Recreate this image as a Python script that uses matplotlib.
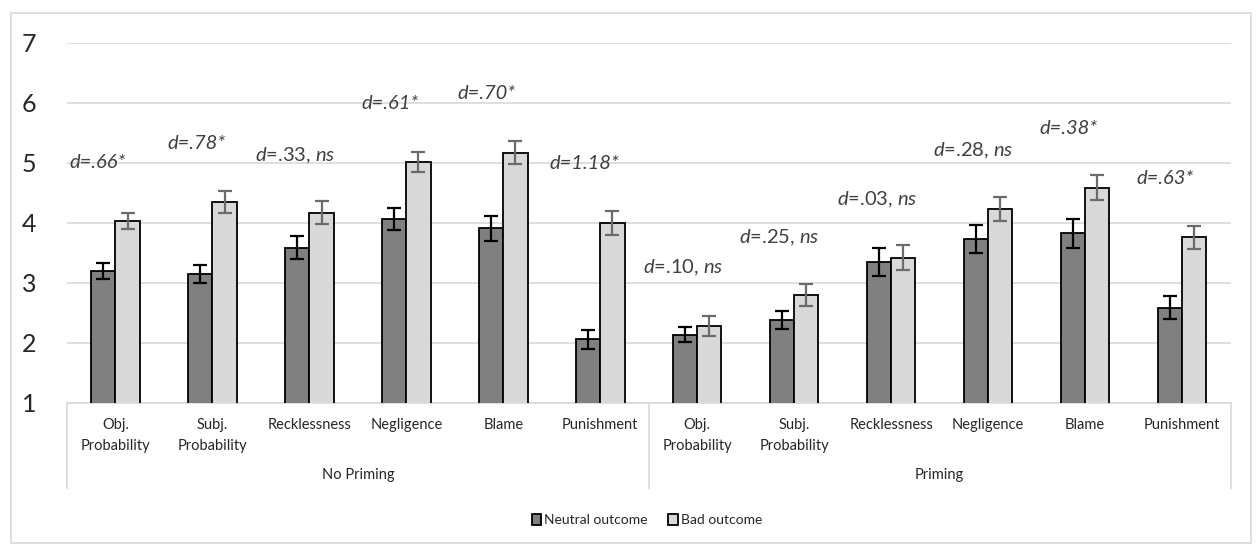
import numpy as np
import matplotlib
matplotlib.use("Agg")
from matplotlib import pyplot as plt
from matplotlib import transforms
from matplotlib.patches import Rectangle

plt.rcParams['font.family'] = ['Lato', 'DejaVu Sans']
plt.rcParams['mathtext.fontset'] = 'custom'
plt.rcParams['mathtext.rm'] = 'Lato'
plt.rcParams['mathtext.it'] = 'Lato:italic'

# data
groups = ['No Priming', 'Priming']
measures = ['Obj.\nProbability', 'Subj.\nProbability', 'Recklessness',
            'Negligence', 'Blame', 'Punishment']
neutral = [3.20, 3.15, 3.59, 4.07, 3.91, 2.06,
           2.14, 2.38, 3.35, 3.73, 3.83, 2.59]
neutral_err = [0.14, 0.15, 0.19, 0.18, 0.21, 0.16,
               0.13, 0.15, 0.23, 0.23, 0.24, 0.19]
bad = [4.03, 4.35, 4.17, 5.02, 5.17, 4.00,
       2.28, 2.80, 3.42, 4.24, 4.59, 3.76]
bad_err = [0.13, 0.18, 0.19, 0.17, 0.19, 0.20,
           0.17, 0.18, 0.21, 0.20, 0.21, 0.19]
effects = ['.66', '.78', '.33', '.61', '.70', '1.18',
           '.10', '.25', '.03', '.28', '.38', '.63']
signif = [True, True, False, True, True, True,
          False, False, False, False, True, True]

# where each effect-size label sits (category units / y units)
label_dx = [-0.47, -0.46, -0.56, -0.46, -0.47, -0.52,
            -0.56, -0.57, -0.56, -0.57, -0.47, -0.47]
label_y = [5.00, 5.32, 5.12, 5.99, 6.16, 4.99,
           3.26, 3.76, 4.39, 5.20, 5.57, 4.74]

fig = plt.figure(figsize=(12.57, 5.44), dpi=100)
ax = fig.add_axes([67/1257, 1-403/544, (1230.5-67)/1257, 360/544])

fig.patches.append(Rectangle((11/1257, 1/544), 1240/1257, 530/544,
                             transform=fig.transFigure, fill=False,
                             edgecolor='#d9d9d9', linewidth=1.2))

x = np.arange(len(neutral))
w = 0.25
ax.bar(x - w/2, neutral, w, color='#808080', edgecolor='black',
       linewidth=1.3, label='Neutral outcome', zorder=3)
ax.bar(x + w/2, bad, w, color='#d9d9d9', edgecolor='black',
       linewidth=1.3, label='Bad outcome', zorder=3)
ax.errorbar(x - w/2, neutral, yerr=neutral_err, fmt='none', ecolor='black',
            elinewidth=1.6, capsize=5, capthick=1.6, zorder=4)
ax.errorbar(x + w/2, bad, yerr=bad_err, fmt='none', ecolor='#6b6b6b',
            elinewidth=1.6, capsize=5, capthick=1.6, zorder=4)

for i in range(len(effects)):
    if signif[i]:
        txt = 'd=' + effects[i] + '*'
        ax.text(x[i] + label_dx[i], label_y[i], txt, fontsize=14.5,
                style='italic', color='#404040', va='center', ha='left')
    else:
        txt = r'$\mathit{d}$=' + effects[i] + r', $\mathit{ns}$'
        ax.text(x[i] + label_dx[i], label_y[i], txt, fontsize=14.5,
                color='#404040', va='center', ha='left')

ax.set_ylim(1, 7)
ax.set_xlim(-0.5, len(neutral) - 0.5)
ax.set_yticks(range(1, 8))
ax.tick_params(axis='y', length=0, pad=22, labelsize=18,
               labelcolor='#262626')
ax.yaxis.grid(True, color='#d9d9d9', linewidth=1.2, zorder=0)
ax.set_axisbelow(True)
for s in ['top', 'right', 'left']:
    ax.spines[s].set_visible(False)
ax.spines['bottom'].set_color('#d9d9d9')
ax.spines['bottom'].set_linewidth(1.2)

ax.set_xticks(x)
ax.set_xticklabels(measures * len(groups), fontsize=10.5, linespacing=1.6,
                   color='#262626')
ax.tick_params(axis='x', length=0, pad=11)

trans = transforms.blended_transform_factory(ax.transData, ax.transAxes)
n = len(measures)
for g in range(len(groups) + 1):
    xb = g * n - 0.5
    ax.plot([xb, xb], [0, -0.235], transform=trans, color='#d9d9d9',
            linewidth=1.2, clip_on=False)
for g, name in enumerate(groups):
    ax.text(g * n + (n - 1) / 2, -0.2, name, transform=trans,
            ha='center', va='center', fontsize=10.5, color='#262626')

fig.legend(loc='center', bbox_to_anchor=(647/1257, 1-520/544), ncol=2,
           frameon=False, fontsize=10, handlelength=0.7, handleheight=0.8,
           handletextpad=0.2, columnspacing=1.5, labelcolor='#262626')

fig.savefig('out.png', dpi=100)
